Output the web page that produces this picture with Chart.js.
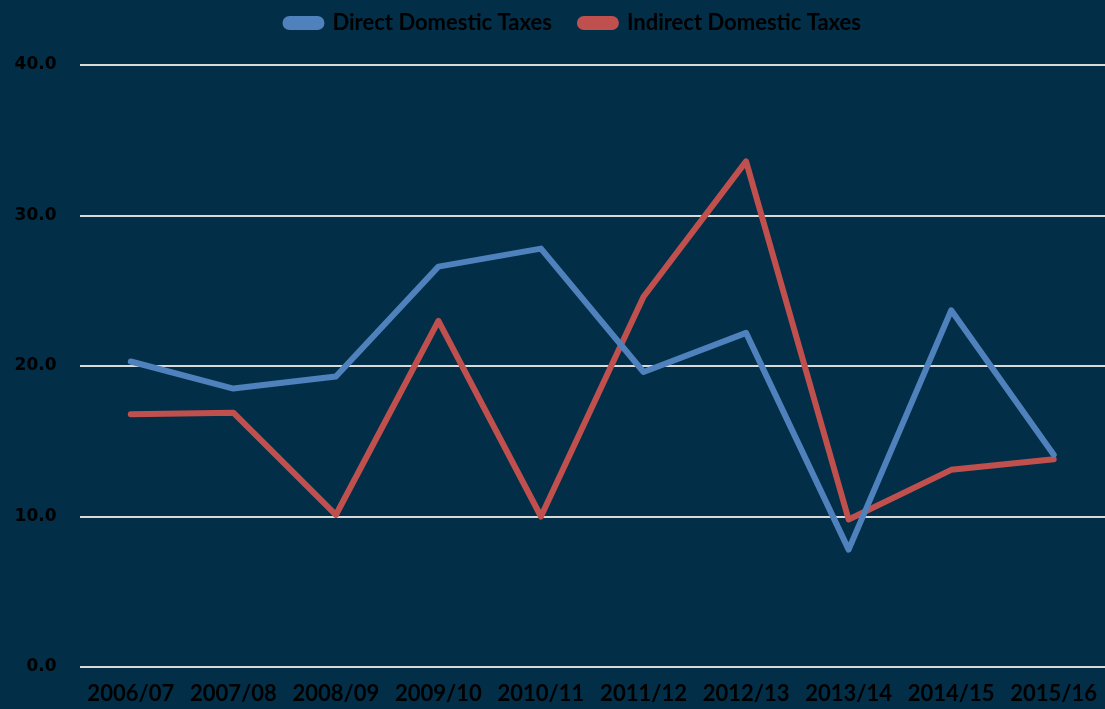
<!DOCTYPE html>
<html>
<head>
<meta charset="utf-8">
<script src="https://cdn.jsdelivr.net/npm/chart.js@4"></script>
<style>
html,body{margin:0;padding:0;background:#022e47;overflow:hidden;}
#wrap{width:1105px;height:709px;position:relative;}
</style>
</head>
<body>
<div id="wrap"><canvas id="c" width="1105" height="709"></canvas></div>
<script>
const categories = ["2006/07","2007/08","2008/09","2009/10","2010/11","2011/12","2012/13","2013/14","2014/15","2015/16"];
const directTaxes = [20.3,18.5,19.3,26.6,27.8,19.6,22.2,7.8,23.7,14.1];
const indirectTaxes = [16.8,16.9,10.1,23.0,10.0,24.6,33.6,9.8,13.1,13.8];
const yTicks = [0,10,20,30,40];

const LEGEND_PAD = 28;
const legendTweak = {
  id: 'legendTweak',
  beforeLayout(chart) {
    const lg = chart.legend;
    if (lg && !lg._patched) {
      const orig = lg.fit;
      lg.fit = function() { orig.call(this); this.height = 65; };
      lg._patched = true;
    }
  },
  afterLayout(chart) {
    const lg = chart.legend;
    const dy = 25 - LEGEND_PAD - 13 - lg.top;
    lg.top += dy; lg.bottom += dy;
    lg.left += 13; lg.right += 13;
  }
};

new Chart(document.getElementById('c'), {
  type: 'line',
  data: {
    labels: categories,
    datasets: [
      {label:'Direct Domestic Taxes', data: directTaxes, borderColor:'#4f81bd', backgroundColor:'#4f81bd', borderWidth:6, pointRadius:0, tension:0, borderJoinStyle:'round', borderCapStyle:'round'},
      {label:'Indirect Domestic Taxes', data: indirectTaxes, borderColor:'#c0504d', backgroundColor:'#c0504d', borderWidth:6, pointRadius:0, tension:0, borderJoinStyle:'round', borderCapStyle:'round'}
    ]
  },
  plugins: [legendTweak],
  options: {
    responsive:false,
    animation:false,
    layout:{padding:{left:9.5,right:-6,top:0,bottom:0}},
    plugins:{
      legend:{
        position:'top',
        labels:{
          color:'#000',
          font:{family:'Lato, sans-serif', weight:'bold', size:22},
          boxWidth:36, boxHeight:8, useBorderRadius:true, borderRadius:4, padding:LEGEND_PAD
        }
      },
      tooltip:{enabled:false}
    },
    scales:{
      x:{
        offset:true,
        grid:{display:false, drawTicks:false},
        border:{display:false},
        afterFit:(s)=>{s.height = 42; s.paddingLeft = 0; s.paddingRight = 0;},
        ticks:{color:'#000', font:{family:'Lato, sans-serif', weight:'bold', size:22}, padding:14, maxRotation:0, autoSkip:false}
      },
      y:{
        min:0, max:40,
        afterBuildTicks:(axis)=>{axis.ticks = yTicks.map(v=>({value:v}));},
        afterFit:(s)=>{s.width = 70;},
        grid:{color:'#d9d9d9', lineWidth:2, drawTicks:false},
        border:{display:false},
        ticks:{color:'#000', font:{family:'"DejaVu Sans", sans-serif', weight:'bold', size:17}, padding:23, callback:(v)=>Number(v).toFixed(1)}
      }
    }
  }
});
</script>
</body>
</html>
